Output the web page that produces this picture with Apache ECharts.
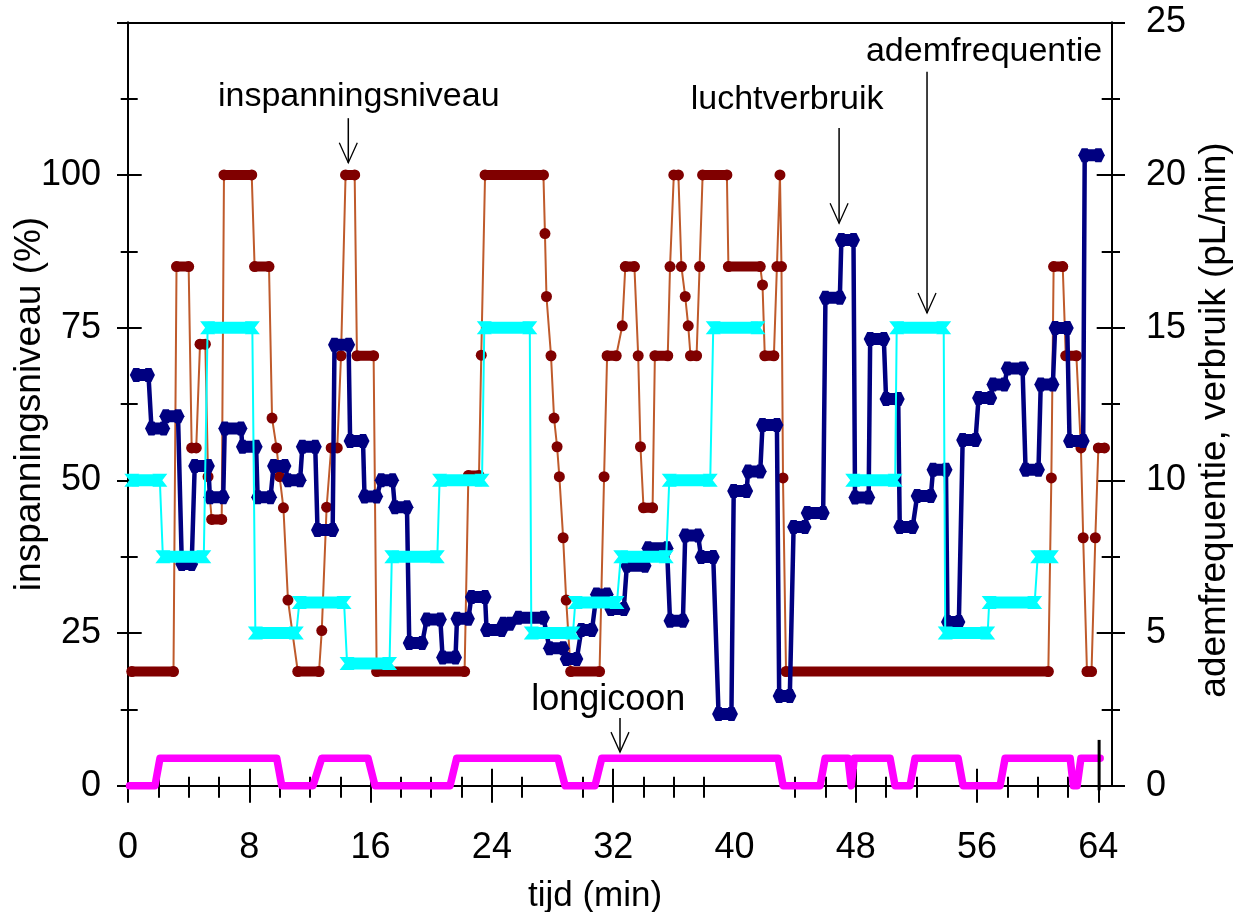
<!DOCTYPE html>
<html>
<head>
<meta charset="utf-8">
<script src="https://cdn.jsdelivr.net/npm/echarts@6.0.0/dist/echarts.min.js"></script>
<style>
  html, body { margin: 0; padding: 0; background: #fff; }
  #chart { width: 1247px; height: 912px; }
</style>
</head>
<body>
<div id="chart"></div>
<script>
// ---------- data: [time (min), value] ----------
// inspanningsniveau (%), left axis
const effort = [
  [0.25,18.7],[3.0,18.7],[3.2,85],[4.0,85],[4.2,55.3],[4.5,55.3],[4.75,72.3],[5.1,72.3],
  [5.28,50.6],[5.52,43.6],[6.18,43.6],[6.33,100],[8.16,100],[8.35,85],[9.3,85],
  [9.5,60.2],[9.8,55.3],[10.0,50.6],[10.25,45.5],[10.55,30.4],[11.2,18.7],[12.6,18.7],
  [12.78,25.4],[13.1,45.6],[13.4,55.3],[13.8,55.3],[14.05,70.4],[14.35,100],[14.95,100],
  [15.1,70.4],[16.2,70.4],[16.4,18.7],[22.2,18.7],[22.45,50.8],[23.15,50.8],[23.3,70.5],
  [23.55,100],[27.4,100],
  [27.5,90.4],[27.6,80.1],[27.9,70.4],[28.1,60.2],[28.3,55.5],[28.45,50.6],[28.7,40.6],
  [28.9,30.4],[29.2,18.7],[31.1,18.7],[31.4,50.6],[31.6,70.4],[32.2,70.4],[32.6,75.3],
  [32.8,85],[33.4,85],[33.65,70.4],[33.8,55.5],[34.0,45.5],[34.6,45.5],[34.75,70.4],
  [35.6,70.4],[35.75,85],[36.0,100],[36.3,100],[36.5,85],[36.75,80.1],[36.95,75.3],
  [37.1,70.4],[37.5,70.4],[37.7,85],[37.9,100],[39.5,100],[39.6,85],[41.7,85],
  [41.85,82],[42.0,70.4],[42.6,70.4],[42.8,85],[43.0,100],[43.1,85],[43.2,50.4],
  [43.4,18.7],[60.7,18.7],[60.9,50.4],[61.05,85],[61.65,85],[61.85,70.4],[62.55,70.4],
  [62.85,55.3],[63.0,40.6],[63.25,18.7],[63.55,18.7],[63.8,40.6],[64.0,55.3],[64.4,55.3]
];

// luchtverbruik (pL/min), right axis
const air = [
  [0.55,13.45],[1.35,13.45],[1.55,11.7],[2.35,11.7],[2.5,12.1],[3.3,12.1],
  [3.55,7.26],[4.2,7.26],[4.4,10.47],[5.3,10.47],[5.4,9.45],[6.28,9.45],
  [6.38,11.7],[7.45,11.7],[7.55,11.1],[8.45,11.1],[8.55,9.45],[9.4,9.45],
  [9.6,10.47],[10.35,10.47],[10.55,10.0],[11.35,10.0],[11.5,11.1],[12.35,11.1],
  [12.5,8.37],[13.5,8.37],[13.62,14.44],[14.55,14.44],[14.65,11.29],[15.5,11.29],
  [15.6,9.47],[16.4,9.47],[16.7,10.0],[17.45,10.0],[17.6,9.12],[18.4,9.12],
  [18.55,4.67],[19.4,4.67],[19.7,5.44],[20.6,5.44],[20.75,4.2],[21.6,4.2],
  [21.7,5.47],[22.45,5.47],[22.65,6.18],[23.55,6.18],[23.65,5.1],[24.65,5.1],
  [24.75,5.3],[25.2,5.3],[25.75,5.5],[27.4,5.5],[27.8,4.5],[28.7,4.5],
  [28.9,4.15],[29.6,4.15],[29.9,5.1],[30.6,5.1],[30.9,6.26],[31.6,6.26],
  [31.85,5.79],[32.7,5.79],[32.9,7.2],[34.1,7.2],[34.3,7.78],[35.55,7.78],
  [35.75,5.4],[36.6,5.4],[36.75,8.19],[37.6,8.19],[37.8,7.49],[38.6,7.49],
  [38.95,2.35],[39.8,2.35],[39.95,9.65],[40.8,9.65],[40.9,10.29],[41.7,10.29],
  [41.85,11.81],[42.8,11.81],[42.95,2.94],[43.65,2.94],[43.9,8.47],[44.65,8.47],
  [44.8,8.93],[45.85,8.93],[46.0,15.98],[46.95,15.98],[47.05,17.87],[47.85,17.87],
  [47.95,9.44],[48.85,9.44],[48.95,14.63],[49.85,14.63],[50.0,12.66],[50.8,12.66],
  [50.9,8.47],[51.75,8.47],[52.05,9.49],[52.95,9.49],[53.1,10.35],[53.95,10.35],
  [54.05,5.36],[54.8,5.36],[55.05,11.32],[55.9,11.32],[56.1,12.7],[56.9,12.7],
  [57.05,13.14],[57.8,13.14],[58.0,13.66],[59.0,13.66],[59.2,10.35],[60.05,10.35],
  [60.2,13.14],[61.0,13.14],[61.15,14.99],[61.95,14.99],[62.1,11.29],[63.0,11.29],
  [63.1,20.65],[64.0,20.65]
];

// ademfrequentie, right axis ('-' = no reading)
const breath = [
  [0.25,10],[2.1,10],[2.3,7.5],[5.0,7.5],[5.25,15],[8.2,15],[8.4,5],[11.1,5],
  [11.3,6],[14.25,6],[14.45,4],[17.25,4],[17.4,7.5],[20.4,7.5],[20.55,10],[23.35,10],
  [23.5,15],[26.5,15],[26.6,5],[29.35,5],[29.5,6],[32.25,6],[32.5,7.5],[35.5,7.5],
  [35.7,10],[38.4,10],[38.6,15],[41.55,15],[44.5,'-'],
  [47.8,10],[50.6,10],[50.7,15],[53.8,15],[53.9,5],[56.7,5],[56.8,6],[59.8,6],
  [60.0,7.5],[60.9,7.5]
];

// longicoon on/off, right axis
const lung = [
  [0.1,0],[1.78,0],[2.11,0.9],[9.81,0.9],[10.14,0],[12.2,0],[12.78,0.9],[15.83,0.9],
  [16.29,0],[21.24,0],[21.68,0.9],[28.36,0.9],[28.83,0],[30.8,0],[31.25,0.9],
  [42.88,0.9],[43.21,0],[45.65,0],[45.98,0.9],[47.49,0.9],[47.7,0],[47.9,0.9],
  [50.26,0.9],[50.59,0],[51.58,0],[51.91,0.9],[54.75,0.9],[55.08,0],[57.52,0],
  [57.85,0.9],[62.14,0.9],[62.35,0],[62.6,0],[62.85,0.9],[64.12,0.9]
];
// short end-of-record stroke: time, bottom, top (right-axis units)
const lungEndMark = [64.05, -0.15, 1.5];

// ---------- ticks ----------
const X_MAX = 64.9;
const xMajor = [0, 8, 16, 24, 32, 40, 48, 56, 64];
const xMajorTicks = [0, 8, 16, 24, 32, 48, 56, 64];
const xMinor = [2,4,6,10,12,14,18,20,22,26,30,34,36,38,44,46,50,52,58,60,62];
const leftMajor = [0, 25, 50, 75, 100, 125];
const leftLabels = [0, 25, 50, 75, 100];
const leftMinor = [12.5, 37.5, 62.5, 87.5, 112.5];
const rightMajor = [0, 5, 10, 15, 20, 25];
const rightMinor = [2.5, 7.5, 12.5, 17.5, 22.5];

// annotations: text centre and arrow, in (min, %) coordinates
const notes = [
  { text: 'inspanningsniveau', at: [15.22, 112.9], size: 34, arrowX: 14.53, from: 109.3, to: 102.0 },
  { text: 'luchtverbruik',     at: [43.47, 112.4], size: 34, arrowX: 46.9,  from: 107.7, to: 92.1 },
  { text: 'ademfrequentie',    at: [56.46, 120.2], size: 34, arrowX: 52.7,  from: 116.9, to: 77.4 },
  { text: 'longicoon',         at: [31.68, 14.05], size: 36, arrowX: 32.45, from: 11.1,  to: 5.5 }
];

// ---------- helpers ----------
const FONT = '"Liberation Sans", Arial, sans-serif';
const BLACK = '#000';
const tickLine = { color: BLACK, width: 2 };

// split a series into constant-value runs (gap between changing samples)
function runs(pts) {
  const out = [];
  pts.forEach((p, i) => {
    out.push(p);
    const q = pts[i + 1];
    if (q && q[1] !== p[1]) out.push([(p[0] + q[0]) / 2, '-']);
  });
  return out;
}

function tickAxis(scale, position, values, len, inside) {
  return Object.assign({}, scale, {
    position,
    axisLine: { show: false, onZero: false },
    axisLabel: { show: false },
    splitLine: { show: false },
    axisTick: { show: true, inside, length: len, customValues: values, lineStyle: tickLine }
  });
}

const xScale = { type: 'value', min: 0, max: X_MAX };
const lScale = { type: 'value', min: 0, max: 125 };
const rScale = { type: 'value', min: 0, max: 25 };

const HEX = 'path://M0,7 L3.5,0 L9.5,0 L13,7 L9.5,14 L3.5,14 Z';
const HOURGLASS = 'path://M0,0 L15,0 L10,6.5 L15,13 L0,13 L5,6.5 Z';

const chart = echarts.init(document.getElementById('chart'), null, { renderer: 'canvas' });

const option = {
  animation: false,
  backgroundColor: '#fff',
  textStyle: { fontFamily: FONT, color: BLACK },
  grid: { left: 128, top: 22.3, width: 984, height: 763.4, containLabel: false, outerBoundsMode: 'none' },
  xAxis: [
    Object.assign({}, xScale, {
      position: 'bottom',
      name: 'tijd (min)', nameLocation: 'middle', nameGap: 93, nameMoveOverlap: false,
      nameTextStyle: { fontSize: 35, color: BLACK, fontFamily: FONT, padding: [0, 50, 0, 0] },
      axisLine: { show: true, onZero: false, lineStyle: tickLine },
      axisTick: { show: true, length: 17, customValues: xMajorTicks, lineStyle: tickLine },
      axisLabel: { customValues: xMajor, fontSize: 36, color: BLACK, margin: 44, fontFamily: FONT },
      splitLine: { show: false }
    }),
    tickAxis(xScale, 'bottom', xMajorTicks, 17, true),
    tickAxis(xScale, 'bottom', xMinor, 12, false),
    tickAxis(xScale, 'bottom', xMinor, 9, true),
    Object.assign({}, xScale, {
      position: 'top',
      axisLine: { show: true, onZero: false, lineStyle: tickLine },
      axisTick: { show: false }, axisLabel: { show: false }, splitLine: { show: false }
    })
  ],
  yAxis: [
    Object.assign({}, lScale, {
      position: 'left',
      name: 'inspanningsniveau (%)', nameLocation: 'middle', nameGap: 80, nameMoveOverlap: false,
      nameTextStyle: { fontSize: 37, color: BLACK, fontFamily: FONT },
      axisLine: { show: true, onZero: false, lineStyle: tickLine },
      axisTick: { show: true, length: 11, customValues: leftMajor, lineStyle: tickLine },
      axisLabel: { customValues: leftLabels, fontSize: 36, color: BLACK, margin: 27, fontFamily: FONT },
      splitLine: { show: false }
    }),
    tickAxis(lScale, 'left', leftMajor, 13.7, true),
    tickAxis(lScale, 'left', leftMinor, 7.3, false),
    tickAxis(lScale, 'left', leftMinor, 9.7, true),
    Object.assign({}, rScale, {
      position: 'right',
      name: 'ademfrequentie, verbruik (pL/min)', nameLocation: 'middle', nameGap: 84, nameMoveOverlap: false,
      nameTextStyle: { fontSize: 37, color: BLACK, fontFamily: FONT, padding: [0, 32, 0, 0] },
      axisLine: { show: true, onZero: false, lineStyle: tickLine },
      axisTick: { show: true, length: 13, customValues: rightMajor, lineStyle: tickLine },
      axisLabel: { customValues: rightMajor, fontSize: 36, color: BLACK, margin: 34, fontFamily: FONT },
      splitLine: { show: false }
    }),
    tickAxis(rScale, 'right', rightMajor, 15.3, true),
    tickAxis(rScale, 'right', rightMinor, 8, false),
    tickAxis(rScale, 'right', rightMinor, 10.3, true)
  ],
  series: [
    {
      name: 'longicoon', type: 'line', xAxisIndex: 0, yAxisIndex: 4, z: 2,
      data: lung, showSymbol: false, clip: false,
      lineStyle: { color: '#ff00ff', width: 7.5, join: 'round', cap: 'round' }
    },
    {
      name: 'inspanningsniveau', type: 'line', xAxisIndex: 0, yAxisIndex: 0, z: 3,
      data: effort, showSymbol: false, clip: false,
      lineStyle: { color: '#bf5a2b', width: 2 }
    },
    {
      name: 'inspanningsniveau-meting', type: 'line', xAxisIndex: 0, yAxisIndex: 0, z: 4,
      data: runs(effort), clip: false,
      showSymbol: true, showAllSymbol: true, symbol: 'circle', symbolSize: 11,
      itemStyle: { color: '#800000' },
      lineStyle: { color: '#800000', width: 10, cap: 'round' }
    },
    {
      name: 'luchtverbruik', type: 'line', xAxisIndex: 0, yAxisIndex: 4, z: 5,
      data: air, showSymbol: false, clip: false,
      lineStyle: { color: '#000080', width: 4.5 }
    },
    {
      name: 'luchtverbruik-meting', type: 'line', xAxisIndex: 0, yAxisIndex: 4, z: 6,
      data: runs(air), clip: false,
      showSymbol: true, showAllSymbol: true, symbol: HEX, symbolSize: [13, 14],
      itemStyle: { color: '#000080' },
      lineStyle: { color: '#000080', width: 12 }
    },
    {
      name: 'ademfrequentie', type: 'line', xAxisIndex: 0, yAxisIndex: 4, z: 7,
      data: breath, showSymbol: false, clip: false,
      lineStyle: { color: '#00ffff', width: 2 }
    },
    {
      name: 'ademfrequentie-meting', type: 'line', xAxisIndex: 0, yAxisIndex: 4, z: 8,
      data: runs(breath), clip: false,
      showSymbol: true, showAllSymbol: true, symbol: HOURGLASS, symbolSize: [15, 13],
      itemStyle: { color: '#00ffff' },
      lineStyle: { color: '#00ffff', width: 12 }
    }
  ]
};

chart.setOption(option);

// annotation texts with arrows, placed through the axis scales
const px = (t, v) => chart.convertToPixel({ xAxisIndex: 0, yAxisIndex: 0 }, [t, v]);
const pxRight = (t, v) => chart.convertToPixel({ xAxisIndex: 0, yAxisIndex: 4 }, [t, v]);
const graphics = [];
notes.forEach(n => {
  const c = px(n.at[0], n.at[1]);
  graphics.push({
    type: 'text', x: c[0], y: c[1], z: 100,
    style: { text: n.text, fontSize: n.size, fontFamily: FONT, fill: BLACK, align: 'center', verticalAlign: 'middle' }
  });
  const a = px(n.arrowX, n.from);
  const b = px(n.arrowX, n.to);
  graphics.push({
    type: 'line', z: 100,
    shape: { x1: a[0], y1: a[1], x2: b[0], y2: b[1] },
    style: { stroke: BLACK, lineWidth: 1.5 }
  });
  graphics.push({
    type: 'polyline', z: 100,
    shape: { points: [[b[0] - 9, b[1] - 20], [b[0], b[1]], [b[0] + 9, b[1] - 20]] },
    style: { stroke: BLACK, lineWidth: 1.3, fill: null }
  });
});
const e0 = pxRight(lungEndMark[0], lungEndMark[1]);
const e1 = pxRight(lungEndMark[0], lungEndMark[2]);
graphics.push({
  type: 'line', z: 100,
  shape: { x1: e0[0], y1: e0[1], x2: e1[0], y2: e1[1] },
  style: { stroke: BLACK, lineWidth: 3 }
});
chart.setOption({ graphic: graphics });
</script>
</body>
</html>
